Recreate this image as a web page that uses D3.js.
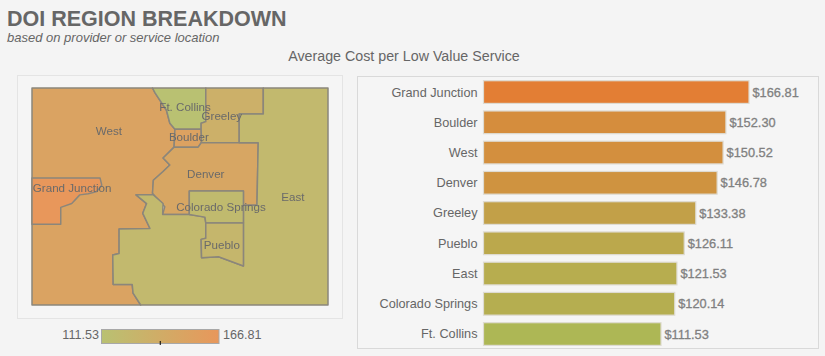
<!DOCTYPE html>
<html lang="en">
<head>
    <meta charset="UTF-8">
    <script src="https://d3js.org/d3.v7.min.js"></script>
    <style>
        html, body {
            margin: 0;
            padding: 0;
            background: #f4f4f4;
            overflow: hidden;
        }
        text {
            font-family: "Liberation Sans", Arial, sans-serif;
        }
        .map-layer {
            filter: blur(0.4px);
        }
    </style>
</head>
<body>
    <svg id="chart"></svg>

    <script>
        const categories = ["Grand Junction", "Boulder", "West", "Denver", "Greeley", "Pueblo", "East", "Colorado Springs", "Ft. Collins"];
        const costs = [166.81, 152.30, 150.52, 146.78, 133.38, 126.11, 121.53, 120.14, 111.53];
        const legendLabels = ["111.53", "166.81"];

        // region outlines, [longitude, latitude]
        const westOutline = [[-109.05, 41], [-106.20, 41], [-106.14, 40.91], [-105.87, 40.59], [-105.79, 40.35], [-105.67, 40.24], [-105.69, 39.91], [-105.95, 39.71], [-105.79, 39.58], [-105.95, 39.46], [-106.18, 39.30], [-106.20, 39.06], [-106.18, 39.03], [-106.59, 39.03], [-106.34, 38.87], [-106.43, 38.69], [-106.26, 38.41], [-106.99, 38.40], [-106.99, 37.95], [-107.14, 37.92], [-107.13, 37.38], [-106.68, 37.38], [-106.66, 37.22], [-106.48, 37], [-109.05, 37]];
        const grandJunctionOutline = [[-109.05, 39.34], [-107.44, 39.34], [-107.40, 39.21], [-107.52, 39.09], [-107.72, 39.05], [-107.92, 39.03], [-108.11, 38.87], [-108.37, 38.80], [-108.37, 38.49], [-109.05, 38.49]];
        const ftCollinsOutline = [[-106.20, 41], [-104.94, 41], [-104.94, 40.38], [-105.05, 40.35], [-105.05, 40.24], [-105.67, 40.24], [-105.79, 40.35], [-105.87, 40.59], [-106.14, 40.91]];
        const boulderOutline = [[-105.67, 40.24], [-105.05, 40.24], [-105.04, 40.00], [-105.12, 39.91], [-105.39, 39.91], [-105.69, 39.91]];
        const greeleyOutline = [[-104.94, 41], [-103.58, 41], [-103.58, 40.52], [-104.15, 40.52], [-104.15, 39.99], [-105.03, 39.99], [-105.04, 40.00], [-105.05, 40.24], [-105.05, 40.35], [-104.94, 40.38]];
        const denverOutline = [[-105.03, 39.99], [-103.70, 39.99], [-103.73, 38.84], [-104.05, 38.84], [-104.05, 39.10], [-105.33, 39.10], [-105.33, 38.67], [-105.96, 38.67], [-105.91, 38.81], [-106.10, 38.97], [-106.20, 39.06], [-106.18, 39.30], [-105.95, 39.46], [-105.79, 39.58], [-105.95, 39.71], [-105.69, 39.91], [-105.39, 39.91], [-105.12, 39.91], [-105.04, 40.00]];
        const coloradoSpringsOutline = [[-105.33, 39.10], [-104.05, 39.10], [-104.05, 38.51], [-104.94, 38.51], [-104.96, 38.62], [-105.33, 38.67]];
        const puebloOutline = [[-104.94, 38.51], [-104.05, 38.51], [-104.05, 37.72], [-104.64, 37.89], [-105.04, 37.87], [-105.05, 38.21], [-104.94, 38.23]];
        const eastOutline = [[-103.58, 41], [-102.05, 41], [-102.05, 37], [-106.48, 37], [-106.66, 37.22], [-106.68, 37.38], [-107.13, 37.38], [-107.14, 37.92], [-106.99, 37.95], [-106.99, 38.40], [-106.26, 38.41], [-106.43, 38.69], [-106.34, 38.87], [-106.59, 39.03], [-106.18, 39.03], [-105.95, 38.87], [-105.96, 38.67], [-105.33, 38.67], [-104.96, 38.62], [-104.94, 38.51], [-104.94, 38.23], [-105.05, 38.21], [-105.04, 37.87], [-104.64, 37.89], [-104.05, 37.72], [-104.05, 38.84], [-103.73, 38.84], [-103.70, 39.99], [-104.15, 39.99], [-104.15, 40.52], [-103.58, 40.52]];

        const regionOutlines = [westOutline, grandJunctionOutline, ftCollinsOutline, boulderOutline, greeleyOutline, denverOutline, eastOutline, coloradoSpringsOutline, puebloOutline];
        const regionNames = ["West", "Grand Junction", "Ft. Collins", "Boulder", "Greeley", "Denver", "East", "Colorado Springs", "Pueblo"];
        const labelNames = ["West", "Grand Junction", "Ft. Collins", "Boulder", "Greeley", "Denver", "East", "Colorado Springs", "Pueblo"];
        const labelLonLat = [[-107.23, 40.21], [-108.10, 39.16], [-105.43, 40.65], [-105.34, 40.10], [-104.56, 40.48], [-104.94, 39.41], [-102.88, 38.99], [-104.58, 38.81], [-104.56, 38.11]];

        const width = 825, height = 356;

        const svg = d3.select("#chart")
            .attr("width", width)
            .attr("height", height)
            .style("display", "block");

        const costOf = name => costs[categories.indexOf(name)];
        const domain = d3.extent(costs);

        const barColor = d3.scaleLinear().domain(domain).range(["#adb755", "#e37e34"]);
        const mapColor = d3.scaleLinear().domain(domain).range(["#b9c172", "#e8975b"]);

        svg.append("text").attr("x", 7).attr("y", 25.5)
            .attr("font-size", 21.5).attr("font-weight", "bold").attr("fill", "#666")
            .text("DOI REGION BREAKDOWN");
        svg.append("text").attr("x", 7).attr("y", 42)
            .attr("font-size", 13).attr("font-style", "italic").attr("fill", "#666")
            .text("based on provider or service location");
        svg.append("text").attr("x", 404).attr("y", 61)
            .attr("text-anchor", "middle").attr("font-size", 14.25).attr("fill", "#666")
            .text("Average Cost per Low Value Service");

        // map panel
        svg.append("rect").attr("x", 17.5).attr("y", 75.5).attr("width", 325).attr("height", 243)
            .attr("fill", "#f5f5f5").attr("stroke", "#e4e4e4");

        const lon = d3.scaleLinear().domain([-109.05, -102.05]).range([32, 328]);
        const lat = d3.scaleLinear().domain([41, 37]).range([88, 305]);

        const outlinePath = d3.line().x(d => lon(d[0])).y(d => lat(d[1]));

        const mapLayer = svg.append("g").attr("class", "map-layer");

        mapLayer.append("g").selectAll("path")
            .data(regionOutlines)
            .enter()
            .append("path")
            .attr("d", d => outlinePath(d) + "Z")
            .attr("fill", (d, i) => mapColor(costOf(regionNames[i])))
            .attr("stroke", "#8b867b")
            .attr("stroke-width", 1.5)
            .attr("stroke-linejoin", "round");

        mapLayer.append("g").selectAll("text")
            .data(labelNames)
            .enter()
            .append("text")
            .attr("x", (d, i) => lon(labelLonLat[i][0]))
            .attr("y", (d, i) => lat(labelLonLat[i][1]))
            .attr("dy", "0.35em")
            .attr("text-anchor", "middle")
            .attr("font-size", 11.6)
            .attr("fill", "#6a6a6a")
            .text(d => d);

        // colour legend
        const gradient = svg.append("defs").append("linearGradient").attr("id", "legendGradient");
        gradient.selectAll("stop")
            .data(domain)
            .enter()
            .append("stop")
            .attr("offset", (d, i) => i * 100 + "%")
            .attr("stop-color", d => mapColor(d));

        const legendX = d3.scaleLinear().domain(domain).range([101.5, 219]);

        svg.append("rect")
            .attr("x", legendX(domain[0])).attr("y", 329.5)
            .attr("width", legendX(domain[1]) - legendX(domain[0])).attr("height", 14)
            .attr("fill", "url(#legendGradient)").attr("stroke", "#a8a8a8");
        svg.append("line")
            .attr("x1", legendX(d3.mean(domain))).attr("x2", legendX(d3.mean(domain)))
            .attr("y1", 341).attr("y2", 345)
            .attr("stroke", "#000");
        svg.selectAll(".legend-label")
            .data(legendLabels)
            .enter()
            .append("text")
            .attr("class", "legend-label")
            .attr("x", (d, i) => i === 0 ? 99 : 223)
            .attr("y", 335)
            .attr("dy", "0.35em")
            .attr("text-anchor", (d, i) => i === 0 ? "end" : "start")
            .attr("font-size", 12.6)
            .attr("fill", "#666")
            .text(d => d);

        // bar panel
        svg.append("rect").attr("x", 357.5).attr("y", 76.5).attr("width", 461).attr("height", 272)
            .attr("fill", "#f5f5f5").attr("stroke", "#d9d9d9");

        const x = d3.scaleLinear().domain([0, 166.81]).range([483.5, 749]);
        const y = d3.scaleBand().domain(categories).range([77.7, 348.4]).paddingInner(0.25).paddingOuter(0.1);

        svg.append("g").selectAll("rect")
            .data(categories)
            .enter()
            .append("rect")
            .attr("x", x(0))
            .attr("y", d => y(d))
            .attr("width", d => x(costOf(d)) - x(0))
            .attr("height", y.bandwidth())
            .attr("fill", d => barColor(costOf(d)))
            .attr("stroke", "#dedbd2")
            .attr("stroke-width", 1.2);

        svg.append("g").selectAll("text")
            .data(categories)
            .enter()
            .append("text")
            .attr("x", 477.5)
            .attr("y", d => y(d) + y.bandwidth() / 2)
            .attr("dy", "0.35em")
            .attr("text-anchor", "end")
            .attr("font-size", 12.7)
            .attr("fill", "#666")
            .text(d => d);

        svg.append("g").selectAll("text")
            .data(categories)
            .enter()
            .append("text")
            .attr("x", d => x(costOf(d)) + 3.5)
            .attr("y", d => y(d) + y.bandwidth() / 2)
            .attr("dy", "0.35em")
            .attr("font-size", 12.8)
            .attr("fill", "#808080")
            .attr("stroke", "#808080")
            .attr("stroke-width", 0.3)
            .text(d => "$" + costOf(d).toFixed(2));
    </script>
</body>
</html>
